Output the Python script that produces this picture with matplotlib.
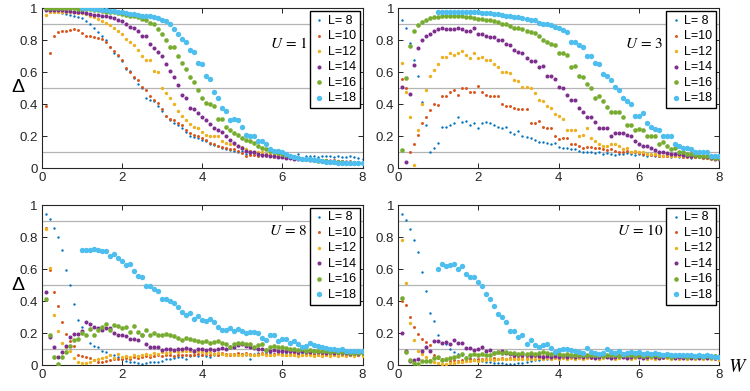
import numpy as np
import matplotlib
matplotlib.use("Agg")
import matplotlib.pyplot as plt

plt.rcParams['font.family'] = ['Liberation Sans', 'DejaVu Sans']
plt.rcParams['mathtext.fontset'] = 'stix'

# W grid: 0.1 ... 8.0 ; L=18 starts at W=1.0
w = np.round(np.arange(1, 81) * 0.1, 1)
w18 = w[9:]

labels = ['L= 8', 'L=10', 'L=12', 'L=14', 'L=16', 'L=18']
colors = ['#0072BD', '#D95319', '#EDB120', '#7E2F8E', '#77AC30', '#4DBEEE']
sizes = [3, 4.5, 6, 8.5, 11, 15]

# ---- U = 1 ----
u1_l8 = [0.99, 0.985, 0.98, 0.975, 0.97, 0.965, 0.96, 0.955, 0.945, 0.94,
         0.92, 0.90, 0.88, 0.85, 0.83, 0.80, 0.76, 0.72, 0.70, 0.67,
         0.62, 0.61, 0.565, 0.53, 0.50, 0.44, 0.43, 0.42, 0.39, 0.36,
         0.33, 0.30, 0.285, 0.27, 0.255, 0.23, 0.20, 0.195, 0.19, 0.18,
         0.17, 0.15, 0.145, 0.14, 0.13, 0.12, 0.115, 0.11, 0.10, 0.11,
         0.09, 0.09, 0.095, 0.09, 0.08, 0.09, 0.085, 0.08, 0.09, 0.085,
         0.08, 0.075, 0.07, 0.09, 0.06, 0.075, 0.08, 0.075, 0.07, 0.08,
         0.075, 0.08, 0.07, 0.075, 0.07, 0.07, 0.075, 0.07, 0.065, 0.06]
u1_l10 = [0.39, 0.72, 0.83, 0.855, 0.86, 0.86, 0.865, 0.87, 0.865, 0.845,
          0.83, 0.825, 0.82, 0.815, 0.81, 0.79, 0.76, 0.735, 0.71, 0.68,
          0.63, 0.60, 0.57, 0.55, 0.51, 0.49, 0.455, 0.43, 0.41, 0.37,
          0.33, 0.31, 0.30, 0.285, 0.27, 0.24, 0.22, 0.21, 0.20, 0.19,
          0.175, 0.16, 0.15, 0.14, 0.135, 0.13, 0.12, 0.12, 0.11, 0.095,
          0.08, 0.085, 0.085, 0.08, 0.085, 0.08, 0.075, 0.07, 0.075, 0.07,
          0.065, 0.065, 0.06, 0.06, 0.055, 0.06, 0.055, 0.05, 0.055, 0.05,
          0.05, 0.045, 0.05, 0.045, 0.045, 0.04, 0.045, 0.04, 0.04, 0.04]
u1_l12 = [0.96, 0.975, 0.975, 0.98, 0.98, 0.98, 0.98, 0.975, 0.97, 0.97,
          0.965, 0.955, 0.945, 0.935, 0.92, 0.91, 0.895, 0.88, 0.86, 0.84,
          0.81, 0.79, 0.77, 0.74, 0.70, 0.675, 0.675, 0.61, 0.60, 0.50,
          0.47, 0.44, 0.40, 0.36, 0.33, 0.30, 0.275, 0.26, 0.25, 0.23,
          0.21, 0.20, 0.20, 0.20, 0.17, 0.16, 0.155, 0.15, 0.14, 0.135,
          0.12, 0.11, 0.105, 0.10, 0.10, 0.09, 0.09, 0.085, 0.08, 0.08,
          0.075, 0.07, 0.065, 0.065, 0.06, 0.06, 0.055, 0.055, 0.05, 0.05,
          0.05, 0.045, 0.045, 0.045, 0.04, 0.04, 0.04, 0.04, 0.04, 0.035]
u1_l14 = [0.99, 0.99, 0.99, 0.99, 0.99, 0.985, 0.985, 0.98, 0.98, 0.975,
          0.97, 0.965, 0.96, 0.96, 0.955, 0.95, 0.945, 0.94, 0.93, 0.92,
          0.90, 0.885, 0.875, 0.86, 0.83, 0.83, 0.78, 0.75, 0.725, 0.70,
          0.65, 0.61, 0.57, 0.52, 0.46, 0.44, 0.38, 0.37, 0.345, 0.32,
          0.30, 0.275, 0.25, 0.24, 0.225, 0.20, 0.18, 0.16, 0.14, 0.125,
          0.11, 0.105, 0.10, 0.09, 0.085, 0.085, 0.08, 0.075, 0.07, 0.07,
          0.065, 0.065, 0.06, 0.06, 0.055, 0.055, 0.05, 0.05, 0.05, 0.045,
          0.045, 0.045, 0.04, 0.04, 0.04, 0.04, 0.035, 0.035, 0.035, 0.03]
u1_l16 = [1.0, 1.0, 1.0, 1.0, 1.0, 1.0, 1.0, 1.0, 0.995, 0.995,
          0.995, 0.995, 0.99, 0.99, 0.985, 0.98, 0.98, 0.975, 0.97, 0.965,
          0.96, 0.955, 0.95, 0.945, 0.935, 0.93, 0.91, 0.905, 0.87, 0.84,
          0.80, 0.76, 0.76, 0.70, 0.66, 0.62, 0.57, 0.54, 0.49, 0.44,
          0.41, 0.40, 0.39, 0.31, 0.31, 0.26, 0.24, 0.22, 0.21, 0.19,
          0.18, 0.17, 0.16, 0.14, 0.13, 0.12, 0.11, 0.10, 0.095, 0.09,
          0.085, 0.08, 0.07, 0.065, 0.06, 0.06, 0.055, 0.05, 0.045, 0.045,
          0.045, 0.04, 0.04, 0.04, 0.04, 0.035, 0.035, 0.035, 0.035, 0.035]
u1_l18 = [1.0, 1.0, 1.0, 0.995, 0.995, 0.99, 0.99, 0.985, 0.985, 0.98,
          0.975, 0.97, 0.965, 0.965, 0.96, 0.955, 0.955, 0.95, 0.945, 0.94,
          0.93, 0.92, 0.90, 0.87, 0.84, 0.81, 0.79, 0.74, 0.73, 0.66,
          0.65, 0.58, 0.56, 0.48, 0.44, 0.38, 0.36, 0.30, 0.31, 0.30,
          0.26, 0.21, 0.20, 0.20, 0.17, 0.17, 0.15, 0.12, 0.11, 0.11,
          0.10, 0.09, 0.08, 0.07, 0.065, 0.06, 0.06, 0.055, 0.05, 0.05,
          0.045, 0.04, 0.04, 0.04, 0.035, 0.035, 0.035, 0.03, 0.03, 0.03,
          0.03]

# ---- U = 3 ----
u3_l8 = [0.93, 0.875, 0.785, 0.68, 0.58, 0.415, 0.27, 0.105, 0.13, 0.16,
         0.26, 0.26, 0.27, 0.28, 0.32, 0.29, 0.295, 0.27, 0.28, 0.25,
         0.28, 0.29, 0.28, 0.27, 0.26, 0.25, 0.26, 0.225, 0.215, 0.235,
         0.20, 0.195, 0.19, 0.18, 0.165, 0.165, 0.16, 0.155, 0.16, 0.135,
         0.13, 0.125, 0.12, 0.12, 0.11, 0.105, 0.10, 0.10, 0.095, 0.10,
         0.09, 0.095, 0.09, 0.085, 0.09, 0.09, 0.095, 0.09, 0.085, 0.09,
         0.085, 0.08, 0.085, 0.08, 0.075, 0.08, 0.075, 0.07, 0.075, 0.07,
         0.07, 0.075, 0.065, 0.07, 0.07, 0.065, 0.07, 0.065, 0.06, 0.065]
u3_l10 = [0.555, 0.50, 0.105, 0.15, 0.21, 0.285, 0.32, 0.365, 0.40, 0.395,
          0.45, 0.45, 0.48, 0.49, 0.46, 0.50, 0.505, 0.48, 0.475, 0.515,
          0.48, 0.46, 0.455, 0.45, 0.45, 0.40, 0.39, 0.39, 0.38, 0.37,
          0.37, 0.37, 0.285, 0.285, 0.295, 0.26, 0.25, 0.25, 0.20, 0.185,
          0.19, 0.19, 0.155, 0.155, 0.14, 0.13, 0.135, 0.135, 0.13, 0.13,
          0.12, 0.115, 0.12, 0.11, 0.105, 0.10, 0.11, 0.10, 0.10, 0.095,
          0.09, 0.09, 0.085, 0.085, 0.08, 0.08, 0.08, 0.08, 0.075, 0.075,
          0.07, 0.075, 0.07, 0.07, 0.075, 0.07, 0.065, 0.065, 0.065, 0.065]
u3_l12 = [0.66, 0.48, 0.32, 0.02, 0.24, 0.40, 0.49, 0.575, 0.615, 0.65,
          0.695, 0.695, 0.72, 0.71, 0.72, 0.735, 0.71, 0.69, 0.72, 0.69,
          0.695, 0.675, 0.68, 0.65, 0.635, 0.60, 0.605, 0.595, 0.55, 0.545,
          0.51, 0.51, 0.50, 0.47, 0.43, 0.42, 0.39, 0.38, 0.34, 0.33,
          0.31, 0.24, 0.24, 0.24, 0.20, 0.21, 0.25, 0.19, 0.17, 0.15,
          0.14, 0.14, 0.15, 0.15, 0.14, 0.12, 0.125, 0.105, 0.11, 0.10,
          0.10, 0.09, 0.09, 0.09, 0.085, 0.08, 0.085, 0.08, 0.075, 0.08,
          0.075, 0.07, 0.075, 0.07, 0.07, 0.065, 0.065, 0.06, 0.06, 0.06]
u3_l14 = [0.51, 0.04, 0.465, 0.645, 0.755, 0.805, 0.83, 0.84, 0.86, 0.868,
          0.875, 0.873, 0.868, 0.868, 0.88, 0.87, 0.858, 0.86, 0.875, 0.84,
          0.84, 0.83, 0.82, 0.82, 0.80, 0.80, 0.78, 0.77, 0.74, 0.73,
          0.72, 0.69, 0.67, 0.67, 0.635, 0.64, 0.58, 0.575, 0.56, 0.51,
          0.505, 0.46, 0.43, 0.43, 0.375, 0.355, 0.32, 0.32, 0.29, 0.255,
          0.255, 0.255, 0.20, 0.22, 0.22, 0.22, 0.21, 0.20, 0.17, 0.155,
          0.14, 0.14, 0.13, 0.115, 0.10, 0.10, 0.095, 0.09, 0.09, 0.09,
          0.085, 0.08, 0.08, 0.075, 0.075, 0.07, 0.07, 0.065, 0.06, 0.06]
u3_l16 = [0.115, 0.567, 0.765, 0.858, 0.895, 0.916, 0.93, 0.94, 0.943, 0.948,
          0.95, 0.95, 0.952, 0.952, 0.95, 0.95, 0.948, 0.945, 0.94, 0.935,
          0.933, 0.93, 0.925, 0.92, 0.915, 0.905, 0.90, 0.89, 0.88, 0.875,
          0.87, 0.86, 0.85, 0.845, 0.83, 0.805, 0.79, 0.78, 0.77, 0.72,
          0.72, 0.71, 0.635, 0.64, 0.575, 0.57, 0.53, 0.50, 0.44, 0.45,
          0.42, 0.385, 0.35, 0.35, 0.35, 0.32, 0.27, 0.27, 0.24, 0.245,
          0.24, 0.20, 0.20, 0.20, 0.155, 0.165, 0.14, 0.12, 0.13, 0.10,
          0.10, 0.09, 0.09, 0.085, 0.08, 0.08, 0.075, 0.07, 0.065, 0.065]
u3_l18 = [0.98, 0.98, 0.98, 0.98, 0.98, 0.98, 0.98, 0.98, 0.978, 0.977,
          0.975, 0.972, 0.97, 0.968, 0.965, 0.962, 0.958, 0.955, 0.95, 0.947,
          0.945, 0.94, 0.935, 0.93, 0.925, 0.91, 0.905, 0.90, 0.895, 0.885,
          0.875, 0.865, 0.85, 0.79, 0.79, 0.77, 0.76, 0.70, 0.70, 0.66,
          0.655, 0.59, 0.58, 0.55, 0.51, 0.49, 0.44, 0.42, 0.40, 0.33,
          0.33, 0.345, 0.28, 0.26, 0.245, 0.24, 0.20, 0.20, 0.20, 0.155,
          0.14, 0.13, 0.125, 0.12, 0.10, 0.10, 0.10, 0.10, 0.08, 0.08,
          0.08]

# ---- U = 8 ----
u8_l8 = [0.944, 0.91, 0.856, 0.80, 0.72, 0.596, 0.50, 0.38, 0.28, 0.235,
         0.19, 0.14, 0.12, 0.11, 0.09, 0.08, 0.065, 0.06, 0.048, 0.035,
         0.023, 0.02, 0.017, 0.015, 0.008, 0.01, 0.02, 0.02, 0.02, 0.023,
         0.04, 0.04, 0.045, 0.048, 0.048, 0.04, 0.055, 0.065, 0.055, 0.06,
         0.055, 0.05, 0.06, 0.065, 0.07, 0.065, 0.07, 0.06, 0.065, 0.07,
         0.065, 0.04, 0.07, 0.075, 0.07, 0.08, 0.075, 0.07, 0.075, 0.07,
         0.075, 0.07, 0.065, 0.07, 0.075, 0.07, 0.08, 0.07, 0.075, 0.07,
         0.075, 0.07, 0.08, 0.07, 0.075, 0.08, 0.07, 0.075, 0.07, 0.07]
u8_l10 = [0.855, 0.595, 0.455, 0.37, 0.27, 0.195, 0.15, 0.12, 0.06, 0.055,
          0.05, 0.045, 0.03, 0.02, 0.02, 0.025, 0.03, 0.035, 0.04, 0.04,
          0.045, 0.04, 0.05, 0.045, 0.05, 0.055, 0.05, 0.055, 0.06, 0.055,
          0.06, 0.06, 0.055, 0.065, 0.06, 0.065, 0.06, 0.065, 0.07, 0.065,
          0.07, 0.065, 0.07, 0.065, 0.075, 0.07, 0.065, 0.07, 0.075, 0.07,
          0.075, 0.07, 0.065, 0.07, 0.075, 0.07, 0.065, 0.07, 0.075, 0.07,
          0.065, 0.07, 0.075, 0.07, 0.065, 0.07, 0.075, 0.07, 0.065, 0.07,
          0.065, 0.07, 0.065, 0.07, 0.065, 0.06, 0.065, 0.06, 0.065, 0.065]
u8_l12 = [0.85, 0.605, 0.315, 0.215, 0.14, 0.11, 0.09, 0.045, 0.02, 0.01,
          0.01, 0.02, 0.03, 0.04, 0.045, 0.05, 0.06, 0.045, 0.07, 0.05,
          0.055, 0.05, 0.06, 0.055, 0.065, 0.07, 0.065, 0.075, 0.07, 0.08,
          0.075, 0.08, 0.085, 0.08, 0.085, 0.09, 0.085, 0.08, 0.085, 0.08,
          0.075, 0.08, 0.07, 0.075, 0.07, 0.065, 0.07, 0.065, 0.06, 0.065,
          0.07, 0.065, 0.06, 0.065, 0.07, 0.065, 0.06, 0.065, 0.07, 0.065,
          0.06, 0.065, 0.06, 0.055, 0.06, 0.065, 0.06, 0.055, 0.06, 0.055,
          0.06, 0.055, 0.06, 0.055, 0.06, 0.055, 0.06, 0.055, 0.06, 0.055]
u8_l14 = [0.456, 0.173, 0.11, 0.048, 0.08, 0.12, 0.175, 0.195, 0.195, 0.21,
          0.266, 0.257, 0.235, 0.23, 0.22, 0.23, 0.23, 0.20, 0.19, 0.19,
          0.18, 0.165, 0.16, 0.155, 0.19, 0.13, 0.11, 0.11, 0.11, 0.095,
          0.10, 0.10, 0.095, 0.10, 0.10, 0.105, 0.10, 0.09, 0.10, 0.10,
          0.095, 0.10, 0.095, 0.10, 0.105, 0.10, 0.11, 0.115, 0.125, 0.13,
          0.12, 0.115, 0.105, 0.10, 0.10, 0.095, 0.09, 0.095, 0.09, 0.09,
          0.085, 0.09, 0.085, 0.08, 0.085, 0.08, 0.08, 0.085, 0.08, 0.08,
          0.075, 0.08, 0.075, 0.08, 0.075, 0.075, 0.07, 0.075, 0.07, 0.075]
u8_l16 = [0.41, 0.19, 0.048, 0.008, 0.048, 0.08, 0.12, 0.158, 0.165, 0.20,
          0.19, 0.227, 0.19, 0.22, 0.235, 0.255, 0.22, 0.25, 0.245, 0.23,
          0.235, 0.205, 0.245, 0.205, 0.185, 0.22, 0.185, 0.20, 0.185, 0.19,
          0.195, 0.19, 0.18, 0.17, 0.155, 0.17, 0.16, 0.155, 0.15, 0.145,
          0.15, 0.14, 0.145, 0.15, 0.14, 0.13, 0.115, 0.13, 0.135, 0.135,
          0.13, 0.13, 0.11, 0.125, 0.13, 0.095, 0.11, 0.12, 0.115, 0.115,
          0.105, 0.10, 0.10, 0.095, 0.10, 0.09, 0.095, 0.09, 0.085, 0.085,
          0.09, 0.08, 0.085, 0.08, 0.08, 0.08, 0.075, 0.075, 0.075, 0.075]
u8_l18 = [0.72, 0.717, 0.72, 0.725, 0.717, 0.715, 0.71, 0.68, 0.696, 0.669,
          0.652, 0.623, 0.63, 0.59, 0.558, 0.548, 0.496, 0.496, 0.475, 0.46,
          0.415, 0.415, 0.398, 0.39, 0.36, 0.33, 0.315, 0.325, 0.29, 0.305,
          0.28, 0.275, 0.29, 0.27, 0.24, 0.22, 0.22, 0.23, 0.21, 0.225,
          0.21, 0.20, 0.205, 0.205, 0.20, 0.17, 0.155, 0.185, 0.185, 0.15,
          0.165, 0.165, 0.14, 0.15, 0.13, 0.115, 0.12, 0.14, 0.125, 0.12,
          0.11, 0.105, 0.10, 0.10, 0.095, 0.10, 0.09, 0.09, 0.085, 0.085,
          0.085]

# ---- U = 10 ----
u10_l8 = [0.944, 0.908, 0.85, 0.78, 0.706, 0.58, 0.465, 0.325, 0.274, 0.19,
          0.14, 0.13, 0.10, 0.08, 0.07, 0.06, 0.05, 0.045, 0.035, 0.03,
          0.025, 0.02, 0.02, 0.015, 0.012, 0.01, 0.008, 0.005, 0.008, 0.012,
          0.015, 0.02, 0.025, 0.03, 0.03, 0.035, 0.04, 0.04, 0.045, 0.045,
          0.05, 0.045, 0.05, 0.055, 0.05, 0.055, 0.05, 0.055, 0.06, 0.055,
          0.06, 0.055, 0.06, 0.055, 0.06, 0.055, 0.06, 0.055, 0.06, 0.065,
          0.06, 0.055, 0.06, 0.055, 0.06, 0.055, 0.06, 0.055, 0.06, 0.055,
          0.06, 0.055, 0.06, 0.055, 0.06, 0.055, 0.06, 0.055, 0.06, 0.06]
u10_l10 = [0.398, 0.373, 0.30, 0.238, 0.194, 0.163, 0.144, 0.125, 0.065, 0.045,
           0.035, 0.03, 0.025, 0.03, 0.025, 0.03, 0.03, 0.035, 0.03, 0.035,
           0.04, 0.035, 0.04, 0.045, 0.04, 0.045, 0.04, 0.045, 0.05, 0.045,
           0.05, 0.045, 0.05, 0.055, 0.05, 0.055, 0.05, 0.055, 0.05, 0.055,
           0.05, 0.055, 0.05, 0.055, 0.05, 0.055, 0.05, 0.045, 0.05, 0.055,
           0.05, 0.055, 0.05, 0.045, 0.05, 0.055, 0.05, 0.045, 0.05, 0.055,
           0.05, 0.045, 0.05, 0.055, 0.05, 0.045, 0.05, 0.045, 0.05, 0.055,
           0.05, 0.045, 0.05, 0.045, 0.05, 0.045, 0.05, 0.045, 0.04, 0.045]
u10_l12 = [0.783, 0.512, 0.26, 0.155, 0.09, 0.07, 0.05, 0.03, 0.02, 0.01,
           0.005, 0.005, 0.01, 0.015, 0.02, 0.02, 0.025, 0.025, 0.03, 0.025,
           0.03, 0.03, 0.035, 0.03, 0.035, 0.035, 0.04, 0.035, 0.04, 0.035,
           0.04, 0.04, 0.035, 0.04, 0.045, 0.04, 0.045, 0.04, 0.045, 0.04,
           0.045, 0.04, 0.045, 0.04, 0.045, 0.04, 0.045, 0.05, 0.045, 0.04,
           0.045, 0.05, 0.045, 0.04, 0.045, 0.05, 0.045, 0.04, 0.045, 0.05,
           0.045, 0.04, 0.045, 0.04, 0.045, 0.05, 0.045, 0.04, 0.045, 0.04,
           0.045, 0.04, 0.045, 0.04, 0.045, 0.04, 0.045, 0.04, 0.045, 0.03]
u10_l14 = [0.20, 0.09, 0.025, 0.03, 0.04, 0.09, 0.11, 0.085, 0.148, 0.148,
           0.135, 0.145, 0.13, 0.155, 0.135, 0.14, 0.105, 0.105, 0.096, 0.10,
           0.115, 0.085, 0.096, 0.075, 0.08, 0.085, 0.075, 0.07, 0.065, 0.06,
           0.065, 0.06, 0.055, 0.06, 0.055, 0.05, 0.055, 0.05, 0.055, 0.05,
           0.055, 0.05, 0.055, 0.05, 0.055, 0.05, 0.055, 0.05, 0.045, 0.05,
           0.055, 0.05, 0.045, 0.05, 0.055, 0.05, 0.045, 0.05, 0.055, 0.05,
           0.045, 0.05, 0.055, 0.05, 0.045, 0.05, 0.055, 0.05, 0.045, 0.05,
           0.045, 0.05, 0.045, 0.05, 0.045, 0.05, 0.045, 0.05, 0.045, 0.05]
u10_l16 = [0.418, 0.08, 0.03, 0.01, 0.005, 0.027, 0.027, 0.027, 0.044, 0.048,
           0.033, 0.037, 0.044, 0.048, 0.054, 0.069, 0.044, 0.065, 0.069, 0.065,
           0.069, 0.065, 0.06, 0.075, 0.081, 0.075, 0.08, 0.075, 0.075, 0.07,
           0.075, 0.07, 0.075, 0.07, 0.075, 0.08, 0.075, 0.07, 0.075, 0.07,
           0.065, 0.07, 0.065, 0.06, 0.065, 0.06, 0.065, 0.06, 0.065, 0.06,
           0.055, 0.06, 0.065, 0.06, 0.055, 0.06, 0.065, 0.06, 0.055, 0.06,
           0.055, 0.06, 0.055, 0.06, 0.055, 0.06, 0.055, 0.05, 0.055, 0.06,
           0.055, 0.05, 0.055, 0.05, 0.055, 0.05, 0.055, 0.05, 0.055, 0.05]
u10_l18 = [0.602, 0.631, 0.617, 0.623, 0.631, 0.60, 0.617, 0.569, 0.548, 0.55,
           0.517, 0.496, 0.446, 0.415, 0.371, 0.321, 0.30, 0.267, 0.215, 0.21,
           0.173, 0.185, 0.131, 0.154, 0.127, 0.11, 0.127, 0.131, 0.106, 0.081,
           0.095, 0.10, 0.10, 0.095, 0.09, 0.08, 0.075, 0.105, 0.08, 0.075,
           0.07, 0.075, 0.10, 0.08, 0.075, 0.085, 0.07, 0.075, 0.08, 0.075,
           0.08, 0.07, 0.075, 0.07, 0.075, 0.07, 0.065, 0.07, 0.065, 0.06,
           0.065, 0.06, 0.065, 0.06, 0.055, 0.06, 0.055, 0.06, 0.055, 0.05,
           0.05]

panels = [
    ('1', [u1_l8, u1_l10, u1_l12, u1_l14, u1_l16, u1_l18]),
    ('3', [u3_l8, u3_l10, u3_l12, u3_l14, u3_l16, u3_l18]),
    ('8', [u8_l8, u8_l10, u8_l12, u8_l14, u8_l16, u8_l18]),
    ('10', [u10_l8, u10_l10, u10_l12, u10_l14, u10_l16, u10_l18]),
]

W, H = 750, 391
boxes = [(42, 8.3), (398.3, 8.3), (42, 205), (398.3, 205)]  # left, top in px
aw, ah = 320.5, 160

fig = plt.figure(figsize=(7.5, 3.91), dpi=100)
dark = '#262626'

for i, (u, series) in enumerate(panels):
    left, top = boxes[i]
    ax = fig.add_axes([left / W, 1 - (top + ah) / H, aw / W, ah / H])
    for yv in (0.1, 0.5, 0.9):
        ax.axhline(yv, color='#b4b4b4', lw=0.9, zorder=0)
    for k, vals in enumerate(series):
        xs = w18 if k == 5 else w
        ax.scatter(xs[:len(vals)], vals, s=sizes[k], color=colors[k],
                   linewidths=0, label=labels[k], zorder=2 + k)
    ax.set_xlim(0, 8)
    ax.set_ylim(0, 1)
    ax.set_xticks([0, 2, 4, 6, 8])
    ax.set_yticks([0, 0.2, 0.4, 0.6, 0.8, 1])
    ax.set_yticklabels(['0', '0.2', '0.4', '0.6', '0.8', '1'])
    ax.tick_params(direction='in', top=True, right=True, length=3.5,
                   width=0.7, labelsize=9.5, colors=dark, pad=3)
    for sp in ax.spines.values():
        sp.set_color(dark)
        sp.set_linewidth(0.8)
    ty = 0.78 if i < 2 else 0.84
    ax.text(6.62, ty, r'$U\,=\,%s$' % u, ha='right', va='center',
            fontsize=11, color='black', zorder=20)
    leg = ax.legend(loc='upper right', fontsize=9, frameon=True,
                    fancybox=False, framealpha=1, edgecolor='black',
                    borderaxespad=0.2, borderpad=0.3, labelspacing=0.28,
                    handlelength=0.9, handletextpad=0.25, markerscale=1.0)
    leg.get_frame().set_linewidth(1.0)

fig.text(18 / W, 1 - 88 / H, 'Δ', fontsize=14, ha='center', va='center')
fig.text(18 / W, 1 - 285 / H, 'Δ', fontsize=14, ha='center', va='center')
fig.text(738 / W, 1 - 368 / H, r'$W$', fontsize=14, ha='center', va='center')

fig.savefig('out.png', dpi=100)
